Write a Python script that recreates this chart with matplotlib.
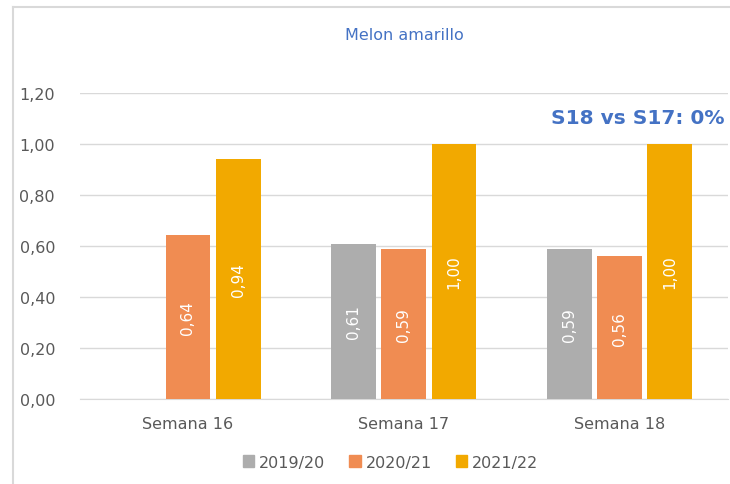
import numpy as np
import matplotlib.pyplot as plt
from matplotlib.lines import Line2D

# %% data
weeks = ["Semana 16", "Semana 17", "Semana 18"]
seasons = ["2019/20", "2020/21", "2021/22"]
v_2019 = [np.nan, 0.61, 0.59]
v_2020 = [0.644, 0.59, 0.56]
v_2021 = [0.94, 1.00, 1.00]
colors = ["#ADADAD", "#F08C52", "#F2A900"]
yticks = [0.0, 0.2, 0.4, 0.6, 0.8, 1.0, 1.2]

# %% figure
fig = plt.figure(figsize=(7.3, 4.85), dpi=100)
ax = fig.add_axes([0.1096, 0.175, 0.8874, 0.631])

x = np.arange(len(weeks))
width = 0.208
offsets = [-0.232, 0.0, 0.232]
for vals, off, col in zip([v_2019, v_2020, v_2021], offsets, colors):
    bars = ax.bar(x + off, vals, width=width, color=col, zorder=3)
    for b, v in zip(bars, vals):
        if np.isnan(v):
            continue
        ax.text(b.get_x() + b.get_width() / 2, v / 2, f"{v:.2f}".replace(".", ","),
                rotation=90, ha="center", va="center", color="white",
                fontsize=11, zorder=4)

ax.set_xlim(-0.5, 2.5)
ax.set_ylim(0, 1.2)
ax.set_yticks(yticks)
ax.set_yticklabels([f"{t:.2f}".replace(".", ",") for t in yticks])
ax.set_xticks(x)
ax.set_xticklabels(weeks)
ax.tick_params(axis="y", length=0, pad=18, labelsize=11.5, labelcolor="#595959")
ax.tick_params(axis="x", length=0, pad=12, labelsize=11.5, labelcolor="#595959")
ax.grid(axis="y", color="#D9D9D9", linewidth=1, zorder=0)
for s in ["top", "right", "left"]:
    ax.spines[s].set_visible(False)
ax.spines["bottom"].set_color("#D9D9D9")

ax.text(0.5, 1.19, "Melon amarillo", transform=ax.transAxes, ha="center",
        va="center", color="#4472C4", fontsize=11.5)
ax.text(0.995, 0.92, "S18 vs S17: 0%", transform=ax.transAxes, ha="right",
        va="center", color="#4472C4", fontsize=14.5, fontweight="bold")

handles = [plt.Rectangle((0, 0), 1, 1, color=c) for c in colors]
fig.legend(handles, seasons, loc="center", bbox_to_anchor=(0.535, 0.045), ncol=3,
           frameon=False, fontsize=11.5, labelcolor="#595959",
           handlelength=0.7, handleheight=0.7, handletextpad=0.3, columnspacing=1.5)

# chart border (top and left edges)
fig.add_artist(Line2D([13 / 730, 1], [1 - 8 / 485, 1 - 8 / 485],
                      transform=fig.transFigure, color="#D9D9D9", linewidth=1.5))
fig.add_artist(Line2D([13 / 730, 13 / 730], [0, 1 - 8 / 485],
                      transform=fig.transFigure, color="#D9D9D9", linewidth=1.5))

fig.savefig("out.png", dpi=100)
